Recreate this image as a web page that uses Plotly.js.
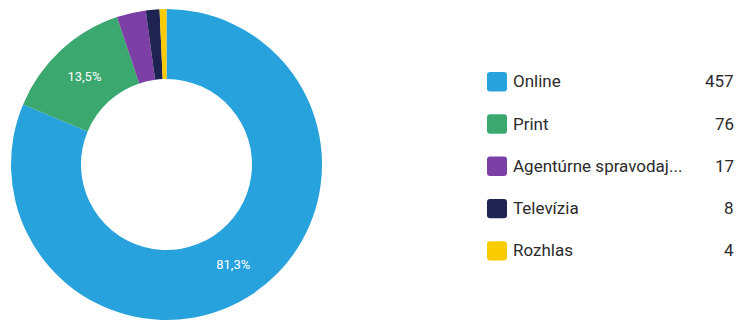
<!DOCTYPE html>
<html><head><meta charset="utf-8">
<script src="https://cdn.plot.ly/plotly-3.0.1.min.js"></script>
<style>html,body{margin:0;padding:0;background:#fff}</style>
</head><body>
<div id="chart" style="width:739px;height:324px"></div>
<script>
const categories = ["Online", "Print", "Agentúrne spravodaj...", "Televízia", "Rozhlas"];
const values = [457, 76, 17, 8, 4];
const colors = ["#27a2dc", "#3aa86f", "#7b3fa5", "#1f2352", "#f8cc00"];
const showPct = [true, true, false, false, false];

const W = 739, H = 324;
const px = x => x / W, py = y => 1 - y / H;

const trace = {
  type: "pie",
  labels: categories,
  values: values,
  marker: {colors: colors, line: {width: 0}},
  hole: 0.55,
  sort: false,
  direction: "clockwise",
  rotation: 0,
  textposition: "inside",
  insidetextorientation: "horizontal",
  texttemplate: showPct.map(s => s ? "%{percent:.1%}" : ""),
  textfont: {family: "Roboto, sans-serif", size: 13, color: "#ffffff"},
  domain: {x: [px(11), px(322)], y: [py(320), py(9)]},
  showlegend: false,
  hoverinfo: "label+value+percent"
};

const rowY0 = 81.7, rowStep = 42.3;
const shapes = [], annotations = [];
categories.forEach((c, i) => {
  const y = rowY0 + i * rowStep;
  const x0 = 487, x1 = 507, y0 = y - 9.7, y1 = y + 9.7, r = 3;
  const path = `M ${px(x0 + r)} ${py(y0)} L ${px(x1 - r)} ${py(y0)} Q ${px(x1)} ${py(y0)} ${px(x1)} ${py(y0 + r)} L ${px(x1)} ${py(y1 - r)} Q ${px(x1)} ${py(y1)} ${px(x1 - r)} ${py(y1)} L ${px(x0 + r)} ${py(y1)} Q ${px(x0)} ${py(y1)} ${px(x0)} ${py(y1 - r)} L ${px(x0)} ${py(y0 + r)} Q ${px(x0)} ${py(y0)} ${px(x0 + r)} ${py(y0)} Z`;
  shapes.push({type: "path", xref: "paper", yref: "paper", path: path, fillcolor: colors[i], line: {width: 0}});
  annotations.push({xref: "paper", yref: "paper", x: px(511), y: py(y - 0.5), xanchor: "left", yanchor: "middle",
    text: c, showarrow: false, font: {family: "Roboto, sans-serif", size: 17, color: "#2b2b2b"}});
  annotations.push({xref: "paper", yref: "paper", x: px(736), y: py(y - 0.5), xanchor: "right", yanchor: "middle",
    text: String(values[i]), showarrow: false, font: {family: "Roboto, sans-serif", size: 17, color: "#2b2b2b"}});
});

const layout = {
  width: W, height: H,
  margin: {l: 0, r: 0, t: 0, b: 0},
  paper_bgcolor: "#ffffff",
  separators: ",.",
  shapes: shapes,
  annotations: annotations,
  showlegend: false
};

Plotly.newPlot("chart", [trace], layout, {displayModeBar: false, staticPlot: true});
</script>
</body></html>
